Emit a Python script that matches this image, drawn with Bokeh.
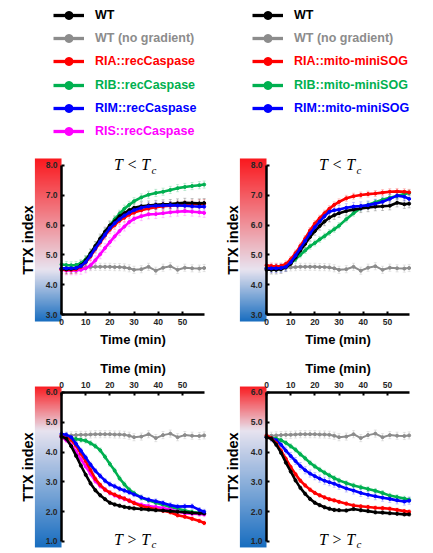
import numpy as np
from bokeh.plotting import figure
from bokeh.models import (Range1d, Legend, LegendItem, Label, Whisker, TeeHead,
                          ColumnDataSource, NumeralTickFormatter, FixedTicker)
from bokeh.layouts import column, row
from bokeh.embed import file_html
from bokeh.resources import INLINE

# ---------------- data ----------------
TIME = [0, 2, 4, 6, 8, 10, 12, 14, 16, 18, 20, 22, 24, 26, 28, 30,
        33, 36, 39, 42, 45, 48, 51, 54, 57, 59]

NOGRAD = [4.55, 4.55, 4.56, 4.57, 4.58, 4.58, 4.59, 4.60, 4.60, 4.60, 4.60, 4.59, 4.59,
          4.58, 4.55, 4.50, 4.52, 4.60, 4.47, 4.57, 4.62, 4.50, 4.57, 4.55, 4.54, 4.56]

TL_WT = [4.53, 4.52, 4.53, 4.55, 4.65, 4.81, 5.05, 5.30, 5.55, 5.78, 5.99, 6.13, 6.30,
         6.40, 6.50, 6.58, 6.63, 6.66, 6.68, 6.70, 6.71, 6.73, 6.75, 6.74, 6.73, 6.74]
TL_RIA = [4.50, 4.50, 4.50, 4.52, 4.60, 4.75, 4.95, 5.20, 5.42, 5.65, 5.85, 6.00, 6.15,
          6.25, 6.35, 6.42, 6.50, 6.56, 6.60, 6.63, 6.65, 6.67, 6.68, 6.70, 6.71, 6.72]
TL_RIB = [4.68, 4.66, 4.65, 4.66, 4.72, 4.85, 5.05, 5.28, 5.52, 5.76, 5.98, 6.20, 6.38,
          6.55, 6.68, 6.80, 6.93, 7.02, 7.08, 7.12, 7.18, 7.24, 7.28, 7.31, 7.34, 7.36]
TL_RIM = [4.55, 4.55, 4.55, 4.56, 4.62, 4.76, 4.98, 5.22, 5.45, 5.68, 5.90, 6.06, 6.20,
          6.32, 6.42, 6.50, 6.58, 6.63, 6.65, 6.66, 6.67, 6.66, 6.65, 6.63, 6.62, 6.62]
TL_RIS = [4.50, 4.48, 4.48, 4.48, 4.50, 4.55, 4.65, 4.82, 5.02, 5.23, 5.43, 5.62, 5.80,
          5.95, 6.10, 6.21, 6.30, 6.36, 6.37, 6.40, 6.43, 6.45, 6.47, 6.45, 6.43, 6.41]

TR_WT = [4.50, 4.50, 4.50, 4.52, 4.58, 4.70, 4.92, 5.15, 5.37, 5.60, 5.80, 5.97, 6.12,
         6.25, 6.33, 6.40, 6.47, 6.52, 6.56, 6.59, 6.62, 6.63, 6.65, 6.75, 6.70, 6.72]
TR_RIA = [4.65, 4.63, 4.62, 4.63, 4.70, 4.85, 5.06, 5.30, 5.55, 5.82, 6.05, 6.23, 6.40,
          6.55, 6.68, 6.78, 6.90, 6.97, 7.01, 7.04, 7.06, 7.09, 7.12, 7.13, 7.12, 7.10]
TR_RIB = [4.55, 4.55, 4.55, 4.56, 4.60, 4.72, 4.86, 5.00, 5.15, 5.29, 5.40, 5.52, 5.63,
          5.75, 5.86, 5.98, 6.20, 6.40, 6.57, 6.68, 6.77, 6.85, 6.92, 6.98, 7.04, 7.08]
TR_RIM = [4.55, 4.55, 4.55, 4.56, 4.60, 4.75, 4.98, 5.22, 5.47, 5.72, 5.93, 6.12, 6.30,
          6.45, 6.50, 6.52, 6.58, 6.62, 6.64, 6.67, 6.72, 6.78, 6.88, 6.99, 6.95, 6.88]

BL_WT = [4.52, 4.45, 4.20, 3.88, 3.55, 3.24, 2.95, 2.72, 2.55, 2.42, 2.30, 2.24, 2.20,
         2.16, 2.13, 2.11, 2.09, 2.07, 2.05, 2.04, 2.02, 2.00, 1.98, 1.96, 1.95, 1.94]
BL_RIA = [4.56, 4.50, 4.41, 4.22, 3.95, 3.70, 3.40, 3.10, 2.90, 2.74, 2.64, 2.57, 2.50,
          2.44, 2.37, 2.29, 2.19, 2.13, 2.08, 2.03, 1.98, 1.88, 1.83, 1.76, 1.69, 1.62]
BL_RIB = [4.50, 4.48, 4.46, 4.44, 4.41, 4.38, 4.30, 4.20, 4.06, 3.84, 3.60, 3.38, 3.12,
          2.92, 2.74, 2.62, 2.47, 2.38, 2.30, 2.23, 2.16, 2.10, 2.04, 1.99, 1.96, 1.95]
BL_RIM = [4.61, 4.58, 4.50, 4.28, 4.05, 3.82, 3.58, 3.37, 3.20, 3.04, 2.92, 2.85, 2.77,
          2.71, 2.65, 2.58, 2.48, 2.40, 2.35, 2.29, 2.22, 2.17, 2.18, 2.18, 2.06, 2.00]
BL_RIS = [4.50, 4.40, 4.25, 4.02, 3.76, 3.52, 3.27, 3.03, 2.86, 2.74, 2.63, 2.55, 2.48,
          2.43, 2.37, 2.30, 2.23, 2.19, 2.16, 2.12, 2.07, 2.01, 1.95, 1.93, 1.92, 1.91]

BR_WT = [4.50, 4.45, 4.25, 3.98, 3.65, 3.35, 3.05, 2.80, 2.60, 2.43, 2.30, 2.22, 2.15,
         2.10, 2.06, 2.05, 2.04, 2.09, 2.05, 2.02, 1.98, 1.97, 1.95, 1.93, 1.91, 1.91]
BR_RIA = [4.56, 4.47, 4.30, 4.05, 3.78, 3.50, 3.26, 3.04, 2.88, 2.74, 2.63, 2.55, 2.48,
          2.42, 2.38, 2.33, 2.27, 2.21, 2.18, 2.16, 2.13, 2.12, 2.10, 2.06, 2.02, 2.00]
BR_RIB = [4.50, 4.48, 4.45, 4.40, 4.31, 4.20, 4.08, 3.93, 3.79, 3.64, 3.52, 3.41, 3.31,
          3.22, 3.13, 3.05, 2.96, 2.88, 2.82, 2.76, 2.70, 2.63, 2.54, 2.49, 2.44, 2.40]
BR_RIM = [4.50, 4.47, 4.40, 4.25, 4.05, 3.87, 3.70, 3.53, 3.39, 3.28, 3.19, 3.11, 3.04,
          2.99, 2.94, 2.87, 2.78, 2.71, 2.63, 2.57, 2.52, 2.47, 2.43, 2.38, 2.34, 2.37]

# estimated SEM per series (order as drawn in each panel)
SEM_TL = [0.12, 0.15, 0.12, 0.14, 0.15, 0.12]
SEM_TR = [0.12, 0.10, 0.14, 0.10, 0.14]
SEM_BL = [0.12, 0.08, 0.08, 0.06, 0.06, 0.08]
SEM_BR = [0.12, 0.08, 0.12, 0.06, 0.06]

LEGEND_LEFT = ["WT", "WT (no gradient)", "RIA::recCaspase", "RIB::recCaspase",
               "RIM::recCaspase", "RIS::recCaspase"]
LEGEND_RIGHT = ["WT", "WT (no gradient)", "RIA::mito-miniSOG", "RIB::mito-miniSOG",
                "RIM::mito-miniSOG"]

Y_TICKS_TOP = [3, 4, 5, 6, 7, 8]
Y_TICKS_BOTTOM = [1, 2, 3, 4, 5, 6]
X_TICKS = [0, 10, 20, 30, 40, 50]

# ---------------- style / layout ----------------
COLORS = {"WT": "#000000", "NOGRAD": "#8c8c8c", "RIA": "#ff0000",
          "RIB": "#00b050", "RIM": "#0000ff", "RIS": "#ff00ff"}
LEGEND_KEYS_LEFT = ["WT", "NOGRAD", "RIA", "RIB", "RIM", "RIS"]
LEGEND_KEYS_RIGHT = ["WT", "NOGRAD", "RIA", "RIB", "RIM"]
SANS = "Liberation Sans"
SERIF = "Liberation Serif"
X_AXIS_END = 59.3
CB_LEFT = -11.0
# view ranges (frame spans whole figure so that fixed-location axes are not clipped)
XR_LEFT = (-25.23, 64.10)
XR_RIGHT = (-20.68, 69.07)
YR_TOP = (1.725, 8.671)
YR_BOTTOM = (0.597, 7.342)
CB_TOP = (2.765, 8.235)
CB_BOTTOM = (0.8, 6.2)

RED = np.array([250, 25, 30], float)
WHITE = np.array([232, 228, 240], float)
BLUE = np.array([25, 110, 192], float)


def colorbar_image(lo, hi, white_v, n=300):
    vals = np.linspace(lo, hi, n)
    out = np.zeros((n, 1), dtype=np.uint32)
    view = out.view(dtype=np.uint8).reshape((n, 1, 4))
    for i, v in enumerate(vals):
        if v >= white_v:
            t = (v - white_v) / (hi - white_v)
            c = WHITE + (RED - WHITE) * t
        else:
            t = (white_v - v) / (white_v - lo)
            c = WHITE + (BLUE - WHITE) * t
        view[i, 0, 0:3] = np.clip(c, 0, 255).astype(np.uint8)
        view[i, 0, 3] = 255
    return out


def make_panel(series, sems, y_ticks, white_v, bottom_row, left_col,
               title_sym, title_y, sub_y):
    width = 216 if left_col else 217
    height = 201 if bottom_row else 207
    xr = XR_LEFT if left_col else XR_RIGHT
    yr = YR_BOTTOM if bottom_row else YR_TOP
    cb = CB_BOTTOM if bottom_row else CB_TOP
    p = figure(width=width, height=height, x_range=Range1d(*xr),
               y_range=Range1d(*yr), toolbar_location=None,
               output_backend="svg", title=None,
               x_axis_location="above" if bottom_row else "below",
               min_border=0)
    p.grid.visible = False
    p.outline_line_color = None
    p.background_fill_color = "white"
    p.border_fill_color = "white"

    p.image_rgba(image=[colorbar_image(cb[0], cb[1], white_v)], x=CB_LEFT, y=cb[0],
                 dw=-CB_LEFT, dh=cb[1] - cb[0])

    for (key, vals), sem in zip(series, sems):
        c = COLORS[key]
        v = np.array(vals)
        src = ColumnDataSource(dict(t=TIME, v=vals, lo=v - sem, hi=v + sem))
        p.add_layout(Whisker(source=src, base="t", lower="lo", upper="hi",
                             line_color=c, line_alpha=0.22, line_width=1,
                             lower_head=TeeHead(size=3, line_color=c, line_alpha=0.22),
                             upper_head=TeeHead(size=3, line_color=c, line_alpha=0.22)))
    for key, vals in series:
        c = COLORS[key]
        lw = 2.0 if key == "NOGRAD" else 2.6
        p.line(TIME, vals, line_color=c, line_width=lw)
        p.scatter(TIME, vals, size=3, fill_color=c, line_color=c)

    xa = p.xaxis[0]
    xa.fixed_location = y_ticks[-1] if bottom_row else y_ticks[0]
    xa.bounds = (0, X_AXIS_END)
    xa.ticker = FixedTicker(ticks=X_TICKS)
    xa.axis_label = "Time (min)"
    ya = p.yaxis[0]
    ya.fixed_location = 0
    ya.bounds = (y_ticks[0], y_ticks[-1])
    ya.ticker = FixedTicker(ticks=y_ticks)
    ya.formatter = NumeralTickFormatter(format="0.0")
    ya.axis_label = "TTX index"
    for ax in (xa, ya):
        ax.axis_line_width = 2.5
        ax.axis_line_color = "black"
        ax.major_tick_in = 3
        ax.major_tick_out = 0
        ax.major_tick_line_width = 2
        ax.minor_tick_in = 0
        ax.minor_tick_out = 0
        ax.major_label_text_font = SANS
        ax.major_label_text_font_style = "bold"
        ax.major_label_text_font_size = "8.5px"
        ax.major_label_text_color = "#262626"
        ax.major_label_standoff = 4
        ax.axis_label_text_font = SANS
        ax.axis_label_text_font_style = "bold"
        ax.axis_label_text_font_size = "13px"
        ax.axis_label_text_color = "black"
    ya.axis_label_text_font_size = "14.5px"
    xa.axis_label_standoff = 4
    ya.axis_label_standoff = 7

    tx = 36.8
    p.add_layout(Label(x=tx, y=title_y, text=title_sym, text_align="right",
                       text_baseline="middle", text_font=SERIF,
                       text_font_style="italic", text_font_size="16px",
                       text_color="black"))
    p.add_layout(Label(x=tx, y=sub_y, x_offset=1, text="c", text_align="left",
                       text_baseline="middle", text_font=SERIF,
                       text_font_style="italic", text_font_size="11px",
                       text_color="black"))
    return p


tl = make_panel([("NOGRAD", NOGRAD), ("RIS", TL_RIS), ("RIB", TL_RIB), ("RIA", TL_RIA),
                 ("WT", TL_WT), ("RIM", TL_RIM)], SEM_TL, Y_TICKS_TOP,
                4.5, False, True, "T < T", 8.03, 7.86)
tr = make_panel([("NOGRAD", NOGRAD), ("RIB", TR_RIB), ("WT", TR_WT), ("RIA", TR_RIA),
                 ("RIM", TR_RIM)], SEM_TR, Y_TICKS_TOP,
                4.5, False, False, "T < T", 8.03, 7.86)
bl = make_panel([("NOGRAD", NOGRAD), ("RIB", BL_RIB), ("RIS", BL_RIS), ("RIA", BL_RIA),
                 ("WT", BL_WT), ("RIM", BL_RIM)], SEM_BL, Y_TICKS_BOTTOM,
                4.7, True, True, "T > T", 1.07, 0.93)
br = make_panel([("NOGRAD", NOGRAD), ("RIB", BR_RIB), ("RIM", BR_RIM), ("RIA", BR_RIA),
                 ("WT", BR_WT)], SEM_BR, Y_TICKS_BOTTOM,
                4.7, True, False, "T > T", 1.07, 0.93)

# ---------------- legend strip ----------------
LG_H = 145
lg = figure(width=433, height=LG_H, x_range=Range1d(0, 433), y_range=Range1d(0, LG_H),
            toolbar_location=None, output_backend="svg", title=None,
            x_axis_type=None, y_axis_type=None, min_border=0)
lg.grid.visible = False
lg.outline_line_color = None
ROW_Y = [15, 38.2, 61.4, 84.6, 107.8, 131.0]
for labels, keys, x0 in ((LEGEND_LEFT, LEGEND_KEYS_LEFT, 53),
                         (LEGEND_RIGHT, LEGEND_KEYS_RIGHT, 252)):
    for i, (lab, key) in enumerate(zip(labels, keys)):
        c = COLORS[key]
        # legend proxies: a single NaN point, nothing is drawn in the plot area
        r1 = lg.line(x=[np.nan], y=[np.nan], line_color=c, line_width=3.3)
        r2 = lg.scatter(x=[np.nan], y=[np.nan], size=8, fill_color=c, line_color=c)
        leg = Legend(items=[LegendItem(label=lab, renderers=[r1, r2])],
                     location=(x0, LG_H - ROW_Y[i] - 10), padding=0, margin=0,
                     border_line_color=None, background_fill_alpha=0,
                     glyph_width=31, glyph_height=20, label_height=20,
                     label_standoff=11, label_text_color=c,
                     label_text_font=SANS, label_text_font_style="bold",
                     label_text_font_size="12.5px")
        lg.add_layout(leg)

layout = column(lg, row(tl, tr), row(bl, br))
open("out.html", "w").write(file_html(layout, INLINE))
